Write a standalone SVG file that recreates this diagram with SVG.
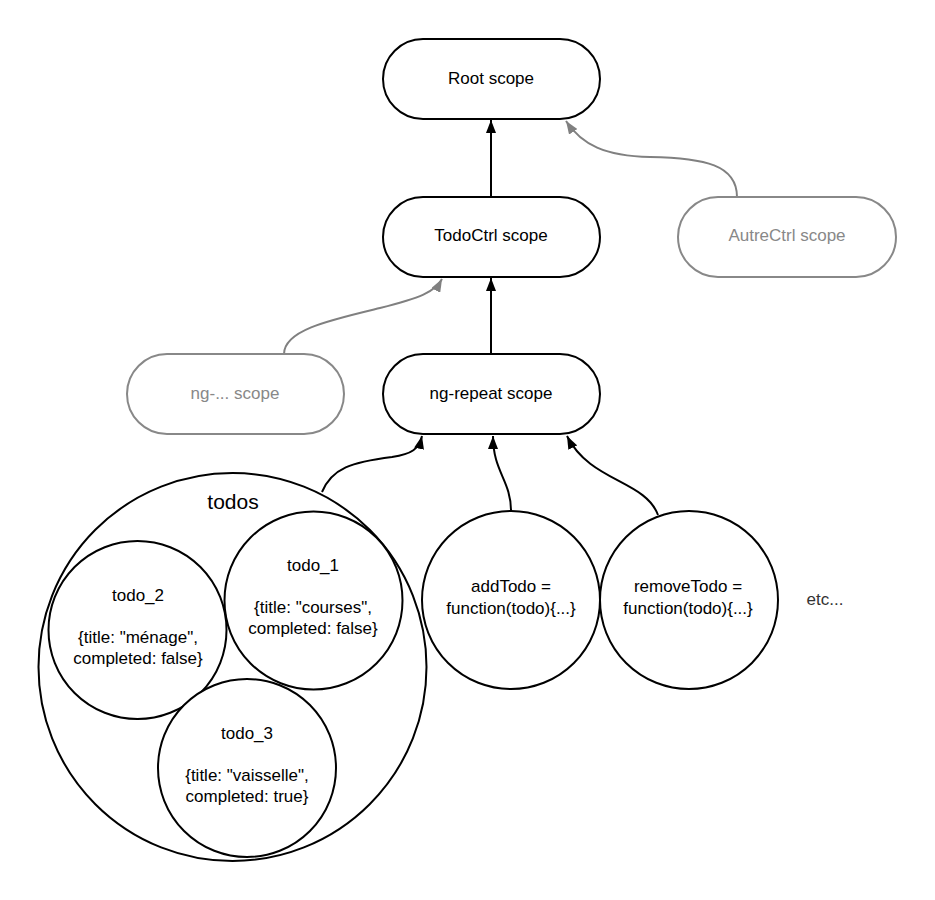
<svg xmlns="http://www.w3.org/2000/svg" width="935" height="900" viewBox="0 0 935 900">
<style>
.n{fill:#fff;stroke:#000;stroke-width:2}
.g{fill:#fff;stroke:#888;stroke-width:2}
text{font-family:"Liberation Sans",Arial,sans-serif;font-size:17px;text-anchor:middle;fill:#000}
.gt{fill:#888}
.c{fill:none;stroke:#000;stroke-width:2}
.cg{fill:none;stroke:#808080;stroke-width:2}
</style>
<defs>
<marker id="ab" markerUnits="userSpaceOnUse" markerWidth="14" markerHeight="10" refX="13" refY="5" orient="auto"><path d="M0,0 L13,5 L0,10 z" fill="#000"/></marker>
<marker id="ag" markerUnits="userSpaceOnUse" markerWidth="14" markerHeight="10" refX="13" refY="5" orient="auto"><path d="M0,0 L13,5 L0,10 z" fill="#808080"/></marker>
</defs>
<rect width="935" height="900" fill="#fff"/>
<g id="connectors">
<path class="c" d="M491,197 L491,120" marker-end="url(#ab)"/>
<path class="c" d="M491,354 L491,278" marker-end="url(#ab)"/>
<path class="cg" d="M737,197 C737,165 705,158 650,157 C605,156 582,145 566,121" marker-end="url(#ag)"/>
<path class="cg" d="M284,354 C284,330 330,320 380,308 C420,298 435,292 442,279" marker-end="url(#ag)"/>
<path class="c" d="M322,492 C332,468 352,462 392,457 C412,454 419,449 422,436" marker-end="url(#ab)"/>
<path class="c" d="M511,511 C511,480 493,472 493,436" marker-end="url(#ab)"/>
<path class="c" d="M658,515 C645,480 590,482 567,436" marker-end="url(#ab)"/>
</g>
<g id="root"><rect class="n" x="383" y="39" width="217" height="80" rx="40"/><text x="491" y="84">Root scope</text></g>
<g id="todoctrl"><rect class="n" x="383" y="197" width="217" height="80" rx="40"/><text x="491" y="241">TodoCtrl scope</text></g>
<g id="autrectrl"><rect class="g" x="678" y="197" width="218" height="80" rx="40"/><text class="gt" x="787" y="241">AutreCtrl scope</text></g>
<g id="ngother"><rect class="g" x="127" y="354" width="217" height="80" rx="40"/><text class="gt" x="235" y="399">ng-... scope</text></g>
<g id="ngrepeat"><rect class="n" x="383" y="354" width="217" height="80" rx="40"/><text x="491" y="399">ng-repeat scope</text></g>
<g id="todos"><circle class="n" cx="232.5" cy="667" r="194"/><text x="233" y="509" style="font-size:21px">todos</text></g>
<g id="todo_1"><circle class="n" cx="313.5" cy="600.5" r="89"/><text x="313" y="571">todo_1</text><text x="313" y="613">{title: "courses",</text><text x="313" y="634">completed: false}</text></g>
<g id="todo_2"><circle class="n" cx="137.5" cy="630" r="89"/><text x="138" y="601">todo_2</text><text x="138" y="643">{title: "ménage",</text><text x="138" y="664">completed: false}</text></g>
<g id="todo_3"><circle class="n" cx="247" cy="768" r="89"/><text x="247" y="739">todo_3</text><text x="247" y="781">{title: "vaisselle",</text><text x="247" y="802">completed: true}</text></g>
<g id="addTodo"><circle class="n" cx="511" cy="600" r="89"/><text x="511" y="592">addTodo =</text><text x="511" y="614">function(todo){...}</text></g>
<g id="removeTodo"><circle class="n" cx="689" cy="600" r="89"/><text x="688" y="592">removeTodo =</text><text x="688" y="614">function(todo){...}</text></g>
<g id="etc"><text x="825" y="605" style="fill:#333">etc...</text></g>
</svg>
